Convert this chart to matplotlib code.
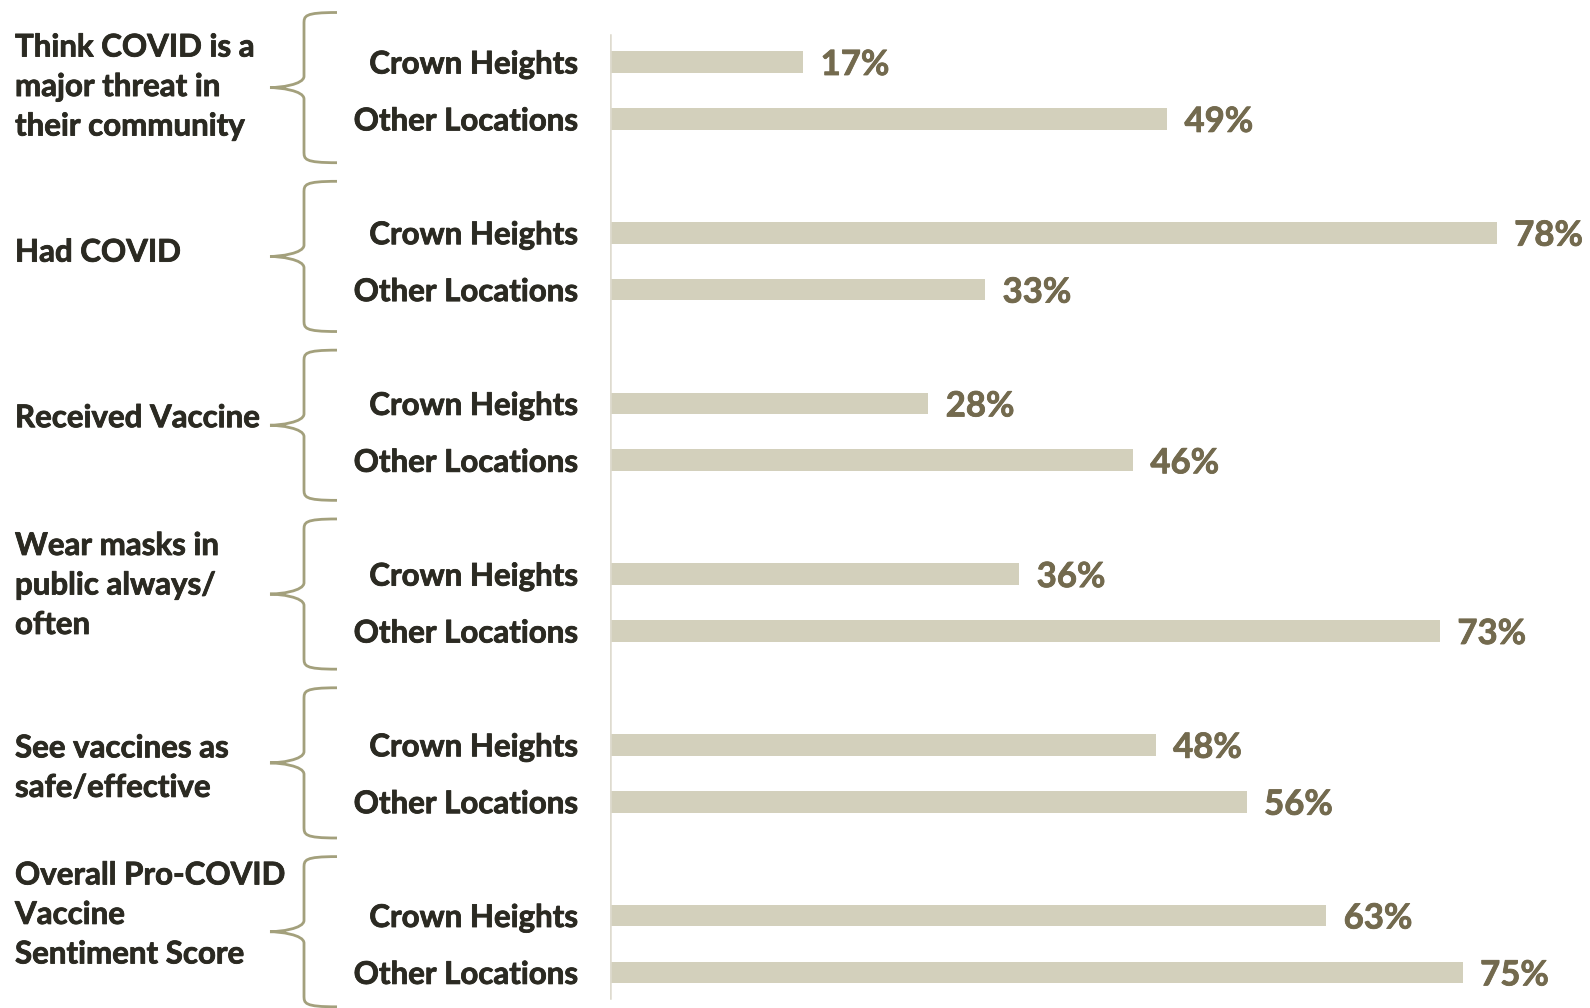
import matplotlib
matplotlib.use("Agg")
import matplotlib.pyplot as plt
from matplotlib.path import Path
from matplotlib.patches import PathPatch
import matplotlib.transforms as mtransforms
import matplotlib.patheffects as pe

plt.rcParams['font.family'] = ['Lato', 'DejaVu Sans']

groups = ["Think COVID is a\nmajor threat in\ntheir community",
          "Had COVID",
          "Received Vaccine",
          "Wear masks in\npublic always/\noften",
          "See vaccines as\nsafe/effective",
          "Overall Pro-COVID\nVaccine\nSentiment Score"]
series = ["Crown Heights", "Other Locations"]
crown_heights = [17, 78, 28, 36, 48, 63]
other_locations = [49, 33, 46, 73, 56, 75]

BAR = "#d3d0bc"
VAL = "#736a4e"
TXT = "#2b2a22"
BRACE = "#a3a07c"
AXL = "#dedbcf"
WT = "bold"


def thicken(color):
    return [pe.withStroke(linewidth=0.6, foreground=color)]


W, H = 1590, 1008
X0 = 610          # x pixel of the value axis
PPU_X = 11.37     # pixels per percent
fig = plt.figure(figsize=(W / 100, H / 100), dpi=100)
ax = fig.add_axes([X0 / W, 0, 1 - X0 / W, 1])

unit = 56.9       # pixels per y unit
y0px = 62
ax.set_ylim((H - y0px) / unit, -y0px / unit)
ax.set_xlim(0, (W - X0) / PPU_X)

ypos, labels, vals = [], [], []
for g in range(len(groups)):
    for s, arr in enumerate([crown_heights, other_locations]):
        ypos.append(3 * g + s)
        labels.append(series[s])
        vals.append(arr[g])

ax.barh(ypos, vals, height=0.38, color=BAR)
for y, v in zip(ypos, vals):
    ax.annotate(f"{v}%", (v, y), xytext=(12.5, 0), textcoords="offset points",
                va="center_baseline", ha="left", fontsize=25, color=VAL,
                fontweight=WT, path_effects=thicken(VAL))

ax.set_yticks(ypos)
ax.set_yticklabels(labels, fontsize=22.5, color=TXT, fontweight=WT)
for t in ax.get_yticklabels():
    t.set_path_effects(thicken(TXT))
ax.tick_params(axis="y", length=0, pad=23)
ax.set_xticks([])
for sp in ax.spines.values():
    sp.set_visible(False)
ax.axvline(0, ymin=1 - 998 / H, ymax=1 - 35 / H, color=AXL, lw=1.8)

# braces and group labels
trans = mtransforms.blended_transform_factory(fig.transFigure, ax.transData)
label_off = [-0.06, -0.15, -0.24, -0.30, -0.09, -0.51]
for g, name in enumerate(groups):
    c = 3 * g + 0.5 - 0.05 - 0.033 * g
    h = 1.32
    xr, xv, xt = 337 / W, 304 / W, 270 / W
    d = 0.2
    verts = [
        (xr, c - h),
        (xv, c - h), (xv, c - h + d * 0.3), (xv, c - h + d),
        (xv, c - d),
        (xv, c - 0.05), (xt + 0.006, c), (xt, c),
        (xt + 0.006, c), (xv, c + 0.05), (xv, c + d),
        (xv, c + h - d),
        (xv, c + h - d * 0.3), (xv, c + h), (xr, c + h),
    ]
    codes = [Path.MOVETO,
             Path.CURVE4, Path.CURVE4, Path.CURVE4,
             Path.LINETO,
             Path.CURVE4, Path.CURVE4, Path.CURVE4,
             Path.CURVE4, Path.CURVE4, Path.CURVE4,
             Path.LINETO,
             Path.CURVE4, Path.CURVE4, Path.CURVE4]
    patch = PathPatch(Path(verts, codes), transform=trans, fill=False,
                      edgecolor=BRACE, lw=2.0, clip_on=False)
    fig.add_artist(patch)
    fig.text(15 / W, 3 * g + 0.5 + label_off[g], name, transform=trans,
             fontsize=22.5, color=TXT, fontweight=WT, ha="left", va="center",
             linespacing=1.5, path_effects=thicken(TXT))

fig.savefig("out.png", dpi=100)
